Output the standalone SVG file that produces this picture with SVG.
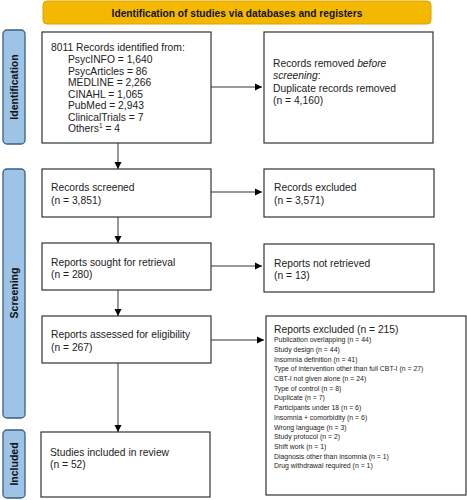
<svg xmlns="http://www.w3.org/2000/svg" width="467" height="500" viewBox="0 0 467 500">
<defs>
<marker id="ah" markerWidth="8" markerHeight="8" refX="7" refY="4" orient="auto" markerUnits="userSpaceOnUse">
<path d="M0,0.5 L7,4 L0,7.5 Z" fill="#000"/>
</marker>
</defs>
<style>
.box{fill:#fff;stroke:#333;stroke-width:1.2}
.side{fill:#9DC3E6;stroke:#3B5F80;stroke-width:1.3}
.t{font-family:"Liberation Sans",Arial,sans-serif;font-size:10.3px;fill:#222}
.s{font-family:"Liberation Sans",Arial,sans-serif;font-size:7.6px;fill:#222}
.side-t{font-family:"Liberation Sans",Arial,sans-serif;font-size:10.5px;font-weight:bold;fill:#111}
.c{stroke:#333;stroke-width:1;fill:none;marker-end:url(#ah)}
</style>
<rect width="467" height="500" fill="#fff"/>
<g id="title">
<rect x="43" y="1" width="388" height="23" rx="4" fill="#F5B800" stroke="#D9A300" stroke-width="1"/>
<text x="237" y="16.5" text-anchor="middle" font-family="Liberation Sans,Arial,sans-serif" font-size="10.2" font-weight="bold" fill="#111">Identification of studies via databases and registers</text>
</g>
<g id="side-identification">
<rect class="side" x="3" y="30" width="22" height="114" rx="4"/>
<text class="side-t" transform="translate(18,87) rotate(-90)" text-anchor="middle">Identification</text>
</g>
<g id="side-screening">
<rect class="side" x="3" y="169" width="22" height="249" rx="4"/>
<text class="side-t" transform="translate(18,293) rotate(-90)" text-anchor="middle">Screening</text>
</g>
<g id="side-included">
<rect class="side" x="3" y="430" width="22" height="68" rx="4"/>
<text class="side-t" transform="translate(18,464) rotate(-90)" text-anchor="middle">Included</text>
</g>
<g id="identified">
<rect class="box" x="42" y="32" width="169" height="111"/>
<text class="t" x="51" y="51">8011 Records identified from:</text>
<text class="t" x="68" y="63">PsycINFO = 1,640</text>
<text class="t" x="68" y="74.5">PsycArticles = 86</text>
<text class="t" x="68" y="86">MEDLINE = 2,266</text>
<text class="t" x="68" y="97.5">CINAHL = 1,065</text>
<text class="t" x="68" y="109">PubMed = 2,943</text>
<text class="t" x="68" y="120.5">ClinicalTrials = 7</text>
<text class="t" x="68" y="132">Others<tspan font-size="6.5" dy="-4">1</tspan><tspan dy="4"> = 4</tspan></text>
</g>
<g id="removed">
<rect class="box" x="264" y="32" width="169" height="111"/>
<text class="t" x="273" y="67">Records removed <tspan font-style="italic">before</tspan></text>
<text class="t" x="273" y="79"><tspan font-style="italic">screening</tspan>:</text>
<text class="t" x="273" y="92">Duplicate records removed</text>
<text class="t" x="273" y="104">(n = 4,160)</text>
</g>
<g id="screened">
<rect class="box" x="42" y="169" width="169" height="48"/>
<text class="t" x="51" y="191">Records screened</text>
<text class="t" x="51" y="204">(n = 3,851)</text>
</g>
<g id="excluded">
<rect class="box" x="264" y="169" width="170" height="48"/>
<text class="t" x="274" y="191">Records excluded</text>
<text class="t" x="274" y="204">(n = 3,571)</text>
</g>
<g id="sought">
<rect class="box" x="42" y="243" width="169" height="47"/>
<text class="t" x="51" y="266">Reports sought for retrieval</text>
<text class="t" x="51" y="278">(n = 280)</text>
</g>
<g id="notretrieved">
<rect class="box" x="264" y="244" width="170" height="48"/>
<text class="t" x="274" y="267">Reports not retrieved</text>
<text class="t" x="274" y="279">(n = 13)</text>
</g>
<g id="assessed">
<rect class="box" x="42" y="316" width="169" height="47"/>
<text class="t" x="51" y="338">Reports assessed for eligibility</text>
<text class="t" x="51" y="351">(n = 267)</text>
</g>
<g id="reportsexcluded">
<rect class="box" x="266" y="316" width="200" height="179"/>
<text class="t" x="274" y="333" font-size="10.8">Reports excluded (n = 215)</text>
<g transform="translate(274,0) scale(0.91,1) translate(-274,0)">
<text class="s" x="274" y="342">Publication overlapping (n = 44)</text>
<text class="s" x="274" y="352">Study design (n = 44)</text>
<text class="s" x="274" y="361.7">Insomnia definition (n = 41)</text>
<text class="s" x="274" y="371.4">Type of intervention other than full CBT-I (n = 27)</text>
<text class="s" x="274" y="381.1">CBT-I not given alone (n = 24)</text>
<text class="s" x="274" y="390.8">Type of control (n = 8)</text>
<text class="s" x="274" y="400.5">Duplicate (n = 7)</text>
<text class="s" x="274" y="410.2">Participants under 18 (n = 6)</text>
<text class="s" x="274" y="419.9">Insomnia + comorbidity (n = 6)</text>
<text class="s" x="274" y="429.6">Wrong language (n = 3)</text>
<text class="s" x="274" y="439.3">Study protocol (n = 2)</text>
<text class="s" x="274" y="449">Shift work (n = 1)</text>
<text class="s" x="274" y="458.7">Diagnosis other than insomnia (n = 1)</text>
<text class="s" x="274" y="468.4">Drug withdrawal required (n = 1)</text>
</g>
</g>
<g id="included">
<rect class="box" x="41" y="432" width="169" height="65"/>
<text class="t" x="50" y="456">Studies included in review</text>
<text class="t" x="50" y="468">(n = 52)</text>
</g>
<g id="connectors">
<line class="c" x1="211" y1="87" x2="262" y2="87"/>
<line class="c" x1="118" y1="143" x2="118" y2="169"/>
<line class="c" x1="211" y1="192" x2="262" y2="192"/>
<line class="c" x1="118" y1="217" x2="118" y2="243"/>
<line class="c" x1="211" y1="266" x2="262" y2="266"/>
<line class="c" x1="118" y1="290" x2="118" y2="316"/>
<line class="c" x1="211" y1="340" x2="264" y2="340"/>
<line class="c" x1="118" y1="363" x2="118" y2="432"/>
</g>
</svg>
